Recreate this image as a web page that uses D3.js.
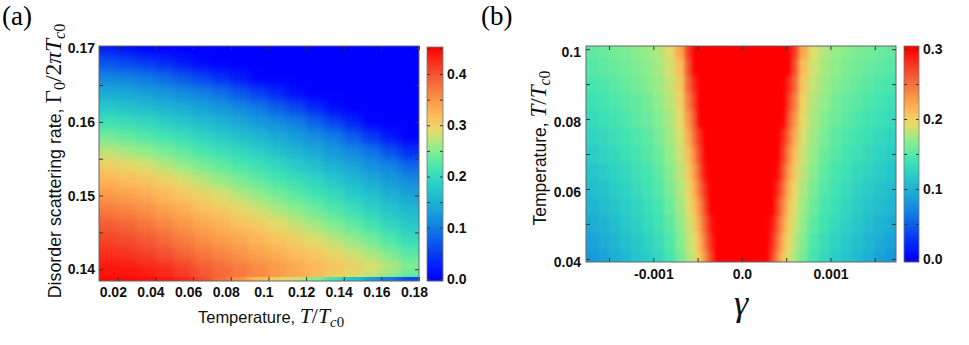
<!DOCTYPE html>
<html>
<head>
<meta charset="utf-8">
<script src="https://cdn.jsdelivr.net/npm/d3@7"></script>
<style>
  body { margin: 0; background: #fff; }
  svg { display: block; }
  text { white-space: pre; }
</style>
</head>
<body>
<div id="viz-container"></div>
<script>
// ---------- panel (a): order parameter vs temperature (cols) and disorder (rows)
let tempA = [0.015, 0.025, 0.035, 0.045, 0.055, 0.065, 0.075, 0.085, 0.095,
             0.105, 0.115, 0.125, 0.135, 0.145, 0.155, 0.165, 0.175];
let gammaA = [0.170, 0.168, 0.166, 0.164, 0.162, 0.160, 0.158, 0.156, 0.154,
              0.152, 0.150, 0.148, 0.146, 0.144, 0.142, 0.140, 0.1392, 0.1385];
let gapA = [
  [0.022,0.012,0,0,0,0,0,0,0,0,0,0,0,0,0,0,0],
  [0.067,0.058,0.048,0.036,0.021,0.007,0,0,0,0,0,0,0,0,0,0,0],
  [0.108,0.103,0.095,0.083,0.069,0.055,0.038,0.021,0.002,0,0,0,0,0,0,0,0],
  [0.142,0.136,0.129,0.121,0.111,0.101,0.086,0.067,0.049,0.030,0.009,0,0,0,0,0,0],
  [0.175,0.169,0.161,0.152,0.142,0.131,0.121,0.109,0.095,0.075,0.055,0.032,0.009,0,0,0,0],
  [0.208,0.202,0.194,0.184,0.172,0.161,0.150,0.138,0.125,0.112,0.100,0.077,0.053,0.029,0.002,0,0],
  [0.240,0.233,0.224,0.214,0.203,0.191,0.179,0.167,0.154,0.140,0.127,0.113,0.098,0.073,0.047,0.018,0],
  [0.273,0.264,0.255,0.243,0.231,0.219,0.208,0.196,0.183,0.167,0.153,0.139,0.124,0.110,0.091,0.064,0.036],
  [0.303,0.295,0.285,0.272,0.258,0.245,0.233,0.221,0.209,0.195,0.180,0.165,0.149,0.134,0.119,0.105,0.082],
  [0.325,0.318,0.311,0.301,0.286,0.272,0.259,0.246,0.233,0.219,0.206,0.191,0.175,0.159,0.143,0.127,0.113],
  [0.347,0.340,0.332,0.321,0.310,0.299,0.285,0.271,0.257,0.243,0.230,0.215,0.200,0.183,0.167,0.150,0.135],
  [0.370,0.362,0.353,0.341,0.329,0.318,0.307,0.296,0.282,0.267,0.254,0.239,0.224,0.207,0.190,0.173,0.157],
  [0.392,0.384,0.374,0.361,0.349,0.336,0.326,0.315,0.304,0.292,0.277,0.263,0.248,0.232,0.215,0.195,0.178],
  [0.409,0.404,0.395,0.382,0.368,0.355,0.344,0.334,0.323,0.311,0.301,0.287,0.272,0.257,0.241,0.221,0.200],
  [0.424,0.420,0.413,0.402,0.387,0.374,0.363,0.352,0.340,0.329,0.318,0.308,0.296,0.281,0.266,0.247,0.227],
  [0.438,0.437,0.431,0.423,0.411,0.393,0.381,0.370,0.358,0.346,0.335,0.325,0.314,0.304,0.291,0.274,0.255],
  [0.443,0.442,0.437,0.430,0.418,0.400,0.386,0.372,0.358,0.344,0.330,0.316,0.300,0.284,0.266,0.244,0.220],
  [0.448,0.447,0.443,0.438,0.428,0.405,0.380,0.350,0.320,0.300,0.280,0.250,0.210,0.170,0.130,0.095,0.060]
];
let xTicksA = [0.02, 0.04, 0.06, 0.08, 0.1, 0.12, 0.14, 0.16, 0.18];
let xLabelsA = ["0.02", "0.04", "0.06", "0.08", "0.1", "0.12", "0.14", "0.16", "0.18"];
let yTicksA = [0.14, 0.145, 0.15, 0.155, 0.16, 0.165, 0.17];
let yLabelsA = ["0.14", "", "0.15", "", "0.16", "", "0.17"];
let barTicksA = [0, 0.05, 0.1, 0.15, 0.2, 0.25, 0.3, 0.35, 0.4, 0.45];
let barLabelsA = ["0.0", "", "0.1", "", "0.2", "", "0.3", "", "0.4", ""];

// ---------- panel (b): order parameter vs gamma (cols) and temperature (rows)
// finer gamma sampling around the edge of the red core
let gammaB = [-0.0016875,-0.0015625,-0.0014375,-0.0013125,-0.0011875,-0.0010625,-0.0009375,
              -0.0008125,-0.0006875,-0.00059375,-0.00053125,-0.00046875,-0.00040625,
              -0.00034375,-0.00028125,-0.0001875,-0.0000625,
              0.0000625,0.0001875,0.00028125,0.00034375,0.00040625,0.00046875,0.00053125,
              0.00059375,0.0006875,0.0008125,0.0009375,0.0010625,0.0011875,0.0013125,
              0.0014375,0.0015625,0.0016875];
let tempB = [0.040, 0.045, 0.050, 0.055, 0.060, 0.065, 0.070, 0.075, 0.080, 0.085, 0.090, 0.095, 0.100];
let gapB = [
  [0.083,0.089,0.097,0.105,0.113,0.121,0.130,0.142,0.160,0.177,0.188,0.206,0.237,0.270,0.310,0.370,0.450,0.450,0.370,0.310,0.270,0.237,0.206,0.188,0.177,0.160,0.142,0.130,0.121,0.113,0.105,0.097,0.089,0.083],
  [0.089,0.095,0.103,0.110,0.118,0.126,0.134,0.147,0.165,0.181,0.192,0.216,0.249,0.280,0.325,0.390,0.460,0.460,0.390,0.325,0.280,0.249,0.216,0.192,0.181,0.165,0.147,0.134,0.126,0.118,0.110,0.103,0.095,0.089],
  [0.096,0.102,0.109,0.116,0.124,0.132,0.140,0.152,0.169,0.185,0.200,0.227,0.260,0.290,0.340,0.400,0.470,0.470,0.400,0.340,0.290,0.260,0.227,0.200,0.185,0.169,0.152,0.140,0.132,0.124,0.116,0.109,0.102,0.096],
  [0.103,0.108,0.115,0.121,0.128,0.136,0.144,0.157,0.173,0.190,0.208,0.238,0.270,0.310,0.355,0.410,0.480,0.480,0.410,0.355,0.310,0.270,0.238,0.208,0.190,0.173,0.157,0.144,0.136,0.128,0.121,0.115,0.108,0.103],
  [0.109,0.114,0.120,0.126,0.133,0.141,0.149,0.162,0.177,0.195,0.218,0.250,0.280,0.325,0.370,0.420,0.490,0.490,0.420,0.370,0.325,0.280,0.250,0.218,0.195,0.177,0.162,0.149,0.141,0.133,0.126,0.120,0.114,0.109],
  [0.115,0.120,0.126,0.131,0.138,0.144,0.153,0.166,0.181,0.202,0.228,0.262,0.295,0.340,0.380,0.430,0.500,0.500,0.430,0.380,0.340,0.295,0.262,0.228,0.202,0.181,0.166,0.153,0.144,0.138,0.131,0.126,0.120,0.115],
  [0.121,0.126,0.131,0.137,0.142,0.149,0.157,0.170,0.185,0.210,0.240,0.272,0.310,0.355,0.395,0.450,0.520,0.520,0.450,0.395,0.355,0.310,0.272,0.240,0.210,0.185,0.170,0.157,0.149,0.142,0.137,0.131,0.126,0.121],
  [0.127,0.131,0.136,0.141,0.147,0.152,0.161,0.173,0.188,0.220,0.252,0.282,0.330,0.370,0.410,0.460,0.530,0.530,0.460,0.410,0.370,0.330,0.282,0.252,0.220,0.188,0.173,0.161,0.152,0.147,0.141,0.136,0.131,0.127],
  [0.133,0.137,0.141,0.146,0.152,0.157,0.165,0.176,0.193,0.231,0.263,0.300,0.345,0.385,0.420,0.480,0.540,0.540,0.480,0.420,0.385,0.345,0.300,0.263,0.231,0.193,0.176,0.165,0.157,0.152,0.146,0.141,0.137,0.133],
  [0.138,0.142,0.147,0.151,0.155,0.160,0.169,0.179,0.198,0.243,0.273,0.315,0.360,0.395,0.430,0.490,0.550,0.550,0.490,0.430,0.395,0.360,0.315,0.273,0.243,0.198,0.179,0.169,0.160,0.155,0.151,0.147,0.142,0.138],
  [0.144,0.147,0.151,0.155,0.160,0.165,0.172,0.183,0.203,0.255,0.283,0.330,0.370,0.410,0.440,0.500,0.560,0.560,0.500,0.440,0.410,0.370,0.330,0.283,0.255,0.203,0.183,0.172,0.165,0.160,0.155,0.151,0.147,0.144],
  [0.149,0.153,0.156,0.159,0.163,0.168,0.175,0.187,0.210,0.265,0.300,0.345,0.385,0.420,0.450,0.520,0.580,0.580,0.520,0.450,0.420,0.385,0.345,0.300,0.265,0.210,0.187,0.175,0.168,0.163,0.159,0.156,0.153,0.149],
  [0.154,0.157,0.160,0.163,0.167,0.171,0.178,0.190,0.222,0.275,0.315,0.360,0.395,0.430,0.460,0.550,0.600,0.600,0.550,0.460,0.430,0.395,0.360,0.315,0.275,0.222,0.190,0.178,0.171,0.167,0.163,0.160,0.157,0.154]
];
let xTicksB = [-0.0015, -0.001, -0.0005, 0, 0.0005, 0.001, 0.0015];
let xLabelsB = ["", "-0.001", "", "0.0", "", "0.001", ""];
let yTicksB = [0.04, 0.05, 0.06, 0.07, 0.08, 0.09, 0.1];
let yLabelsB = ["0.04", "", "0.06", "", "0.08", "", "0.1"];
let barTicksB = [0, 0.05, 0.1, 0.15, 0.2, 0.25, 0.3];
let barLabelsB = ["0.0", "", "0.1", "", "0.2", "", "0.3"];

// ---------- colour map (rainbow-like)
const cmapT = [0, 0.1, 0.2, 0.3, 0.4, 0.48, 0.56, 0.64, 0.7, 0.78, 0.88, 1];
const cmapC = ["#0000ff", "#0537f5", "#0f73e6", "#19a5d7", "#28cdc8", "#46e6af",
               "#8cee8c", "#e6dc69", "#fcbe5a", "#fa9146", "#f35532", "#ff0000"];
const colorA = d3.scaleLinear().domain(cmapT.map(t => t * 0.453)).range(cmapC).clamp(true);
const colorB = d3.scaleLinear().domain(cmapT.map(t => t * 0.3)).range(cmapC).clamp(true);

const sans = "'Liberation Sans', Arial, Helvetica, sans-serif";
const serif = "'Liberation Serif', 'Times New Roman', serif";

let svg = d3.select("#viz-container")
  .append("svg")
    .attr("width", 969)
    .attr("height", 345);

// scales
let xA = d3.scaleLinear().domain([0.01, 0.18]).range([99, 419]);
let yA = d3.scaleLinear().domain([0.1384, 0.1703]).range([281, 46]);
let cA = d3.scaleLinear().domain([-0.0039, 0.4527]).range([281, 47]);
let xB = d3.scaleLinear().domain([-0.00176, 0.00174]).range([586, 896]);
let yB = d3.scaleLinear().domain([0.0391, 0.1009]).range([262, 46]);
let cB = d3.scaleLinear().domain([-0.0043, 0.3043]).range([262, 46]);

let defs = svg.append("defs");
function clip(id, x, y) {
  defs.append("clipPath").attr("id", id).append("rect")
    .attr("x", x.range()[0]).attr("y", y.range()[1])
    .attr("width", x.range()[1] - x.range()[0]).attr("height", y.range()[0] - y.range()[1]);
}
clip("clipA", xA, yA);
clip("clipB", xB, yB);
// blur + force opaque, limited to a box so empty areas don't turn black
function blur(id, sd, box) {
  let f = defs.append("filter").attr("id", id)
    .attr("filterUnits", "userSpaceOnUse")
    .attr("x", box[0]).attr("y", box[1]).attr("width", box[2]).attr("height", box[3])
    .attr("color-interpolation-filters", "sRGB");
  f.append("feGaussianBlur").attr("stdDeviation", sd);
  f.append("feComponentTransfer").append("feFuncA").attr("type", "table").attr("tableValues", "1 1");
}
const stripTop = yA((gammaA[gammaA.length - 2] + gammaA[gammaA.length - 1]) / 2);
blur("blurA", "4 5", [80, 30, 360, 270]);
blur("blurStrip", "4 0.3", [80, stripTop - 0.2, 360, 30]);
blur("blurB", "2 2.5", [570, 30, 340, 250]);

const cellEdges = (c, lo, hi) => c.map((v, i) => [
  i === 0 ? lo : (c[i - 1] + v) / 2,
  i === c.length - 1 ? hi : (v + c[i + 1]) / 2
]);

function heat(parent, cols, rows, grid, x, y, color, rowIdx) {
  let ce = cellEdges(cols, x.domain()[0], x.domain()[1]);
  let re = cellEdges(rows, rows[0] > rows[1] ? y.domain()[1] : y.domain()[0],
                           rows[0] > rows[1] ? y.domain()[0] : y.domain()[1]);
  let cells = [];
  rowIdx.forEach(i => grid[i].forEach((v, j) => cells.push({ i, j, v })));
  parent.selectAll("rect").data(cells).enter()
    .append("rect")
      .attr("x", d => x(ce[d.j][0]) - 0.3)
      .attr("width", d => x(ce[d.j][1]) - x(ce[d.j][0]) + 0.6)
      .attr("y", d => Math.min(y(re[d.i][0]), y(re[d.i][1])) - 0.3)
      .attr("height", d => Math.abs(y(re[d.i][1]) - y(re[d.i][0])) + 0.6)
      .attr("fill", d => color(d.v));
}

// panel (a) heat map
let hA = svg.append("g").attr("clip-path", "url(#clipA)");
heat(hA.append("g").attr("filter", "url(#blurA)"), tempA, gammaA, gapA, xA, yA, colorA,
     d3.range(gammaA.length - 1));
heat(hA.append("g").attr("filter", "url(#blurStrip)"), tempA, gammaA, gapA, xA, yA, colorA,
     [gammaA.length - 1]);

// panel (b) heat map
let hB = svg.append("g").attr("clip-path", "url(#clipB)");
heat(hB.append("g").attr("filter", "url(#blurB)"), gammaB, tempB, gapB, xB, yB, colorB,
     d3.range(tempB.length));

// frames and axes
function styleAxis(g, dx, dy) {
  g.select(".domain").remove();
  g.selectAll(".tick line").attr("stroke", "#333").attr("stroke-width", 1);
  g.selectAll(".tick text")
    .attr("font-family", sans).attr("font-weight", "bold").attr("font-size", 14)
    .attr("fill", "#111")
    .attr("transform", `translate(${dx || 0},${dy || 0})`);
}
function frame(x, y, xt, xl, yt, yl, xpad, ypad, xdx, ydy) {
  let x0 = x.range()[0], x1 = x.range()[1], y0 = y.range()[0], y1 = y.range()[1];
  svg.append("g").attr("transform", `translate(0,${y0})`)
    .call(d3.axisBottom(x).tickValues(xt).tickSize(-4).tickPadding(xpad).tickFormat((d, i) => xl[i]))
    .call(g => styleAxis(g, xdx, 0));
  svg.append("g").attr("transform", `translate(0,${y1})`)
    .call(d3.axisTop(x).tickValues(xt).tickSize(-4).tickFormat(""))
    .call(g => styleAxis(g));
  svg.append("g").attr("transform", `translate(${x0},0)`)
    .call(d3.axisLeft(y).tickValues(yt).tickSize(-4).tickPadding(ypad).tickFormat((d, i) => yl[i]))
    .call(g => styleAxis(g, 0, ydy));
  svg.append("g").attr("transform", `translate(${x1},0)`)
    .call(d3.axisRight(y).tickValues(yt).tickSize(-4).tickFormat(""))
    .call(g => styleAxis(g));
  svg.append("rect").attr("x", x0).attr("y", y1).attr("width", x1 - x0).attr("height", y0 - y1)
    .attr("fill", "none").attr("stroke", "#666").attr("stroke-width", 1);
}
frame(xA, yA, xTicksA, xLabelsA, yTicksA, yLabelsA, 6, 4, -5, 0);
frame(xB, yB, xTicksB, xLabelsB, yTicksB, yLabelsB, 7.5, 5, 0, 3);

// colour bars
function colorbar(x0, x1, c, color, ticks, labels) {
  let top = c.range()[1], bottom = c.range()[0];
  let g = svg.append("g");
  g.selectAll("rect").data(d3.range(top, bottom)).enter()
    .append("rect")
      .attr("x", x0).attr("width", x1 - x0)
      .attr("y", d => d).attr("height", 1.2)
      .attr("fill", d => color(c.invert(d + 0.5)));
  svg.append("g").attr("transform", `translate(${x1},0)`)
    .call(d3.axisRight(c).tickValues(ticks).tickSize(-3).tickPadding(4).tickFormat((d, i) => labels[i]))
    .call(g => styleAxis(g));
  svg.append("g").attr("transform", `translate(${x0},0)`)
    .call(d3.axisLeft(c).tickValues(ticks).tickSize(-3).tickFormat(""))
    .call(g => styleAxis(g));
  svg.append("rect").attr("x", x0).attr("y", top).attr("width", x1 - x0).attr("height", bottom - top)
    .attr("fill", "none").attr("stroke", "#777").attr("stroke-width", 0.8);
}
colorbar(427, 443, cA, colorA, barTicksA.filter(v => cA(v) >= 47), barLabelsA);
colorbar(904, 919, cB, colorB, barTicksB, barLabelsB);

// axis titles
function mathTitle(text, lead, parts, size) {
  text.append("tspan").attr("font-family", sans).attr("font-size", size).text(lead);
  parts.forEach(p => {
    text.append("tspan")
      .attr("font-family", serif)
      .attr("font-style", p.it ? "italic" : "normal")
      .attr("font-size", p.sub ? size * 0.9 : size * 1.32)
      .attr("dy", p.dy || 0)
      .text(p.t);
  });
}
const gammaOverT = [
  { t: "Γ" }, { t: "0", sub: true, dy: 4 }, { t: "/2", dy: -4 }, { t: "π", it: true },
  { t: "T", it: true }, { t: "c", it: true, sub: true, dy: 4 }, { t: "0", sub: true }
];
const tOverT = [
  { t: "T", it: true }, { t: "/" }, { t: "T", it: true },
  { t: "c", it: true, sub: true, dy: 4 }, { t: "0", sub: true }
];
mathTitle(svg.append("text").attr("text-anchor", "middle").attr("fill", "#111")
  .attr("transform", "translate(61,161) rotate(-90)"), "Disorder scattering rate, ", gammaOverT, 17.8);
mathTitle(svg.append("text").attr("text-anchor", "middle").attr("fill", "#111")
  .attr("x", 271).attr("y", 323), "Temperature, ", tOverT, 16.5);
mathTitle(svg.append("text").attr("text-anchor", "middle").attr("fill", "#111")
  .attr("transform", "translate(546,148) rotate(-90)"), "Temperature, ", tOverT, 17.5);
svg.append("text").attr("x", 741).attr("y", 314.5).attr("text-anchor", "middle")
  .attr("font-family", serif).attr("font-style", "italic").attr("font-size", 36)
  .attr("fill", "#111").text("γ");

// panel letters
svg.append("text").attr("x", 2).attr("y", 25).attr("font-family", serif).attr("font-size", 27).text("(a)");
svg.append("text").attr("x", 481).attr("y", 25).attr("font-family", serif).attr("font-size", 27).text("(b)");
</script>
</body>
</html>
